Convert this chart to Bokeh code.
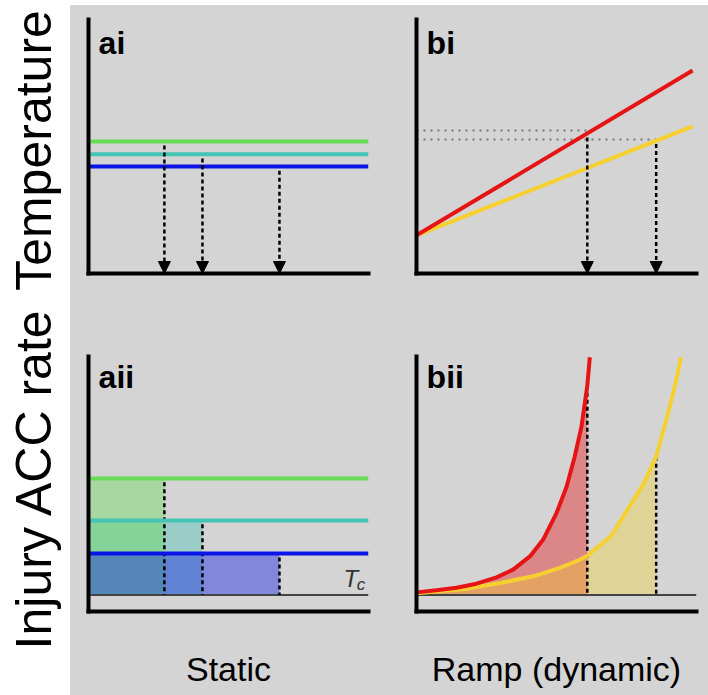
import math
from bokeh.plotting import figure
from bokeh.layouts import row, column
from bokeh.models import Arrow, NormalHead, Spacer, Range1d, ColumnDataSource, FixedTicker
from bokeh.core.properties import value
from bokeh.embed import file_html
from bokeh.resources import INLINE

# ---------------- data ----------------
row_labels = ["Temperature", "Injury ACC rate"]
col_labels = ["Static", "Ramp (dynamic)"]
panel_labels = ["ai", "bi", "aii", "bii"]

# static exposures (three constant temperatures) and their times to failure
static_temp = [0.520, 0.469, 0.421]
static_time = [0.271, 0.407, 0.682]
static_rate = [0.522, 0.357, 0.227]
tc_level = 0.065

# ramp exposures (fast = red, slow = yellow)
ramp_t = [0.0, 0.986]
fast_temp = [0.150, 0.799]
slow_temp = [0.150, 0.579]
fast_fail_t = 0.610
slow_fail_t = 0.856
fast_fail_temp = 0.563
slow_fail_temp = 0.528

fast_t = [0.0, 0.071, 0.143, 0.214, 0.286, 0.345, 0.405, 0.452, 0.500, 0.536, 0.565, 0.589, 0.610, 0.619]
fast_rate = [0.075, 0.083, 0.093, 0.109, 0.134, 0.164, 0.216, 0.281, 0.386, 0.489, 0.607, 0.724, 0.885, 0.997]
slow_t = [0.0, 0.179, 0.298, 0.417, 0.512, 0.583, 0.610, 0.693, 0.753, 0.812, 0.856, 0.895, 0.925, 0.945]
slow_rate = [0.072, 0.089, 0.112, 0.138, 0.171, 0.203, 0.219, 0.294, 0.398, 0.503, 0.607, 0.763, 0.893, 0.997]

# ---------------- style ----------------
BG = "#d4d4d4"
FONT = "Liberation Sans"
static_colors = ["#66dd55", "#44c4b4", "#0a14e6"]
fill_order = [1, 0, 2]
RED = "#e61414"
YEL = "#f5d030"
TC_COLOR = "#444444"


def panel(width, height, bl, br, bt, bb, xlabel=None):
    p = figure(width=width, height=height, output_backend="svg", toolbar_location=None,
               title=None, x_range=Range1d(0, 1), y_range=Range1d(0, 1),
               min_border_left=bl, min_border_right=br, min_border_top=bt, min_border_bottom=bb,
               background_fill_color=BG, border_fill_color=BG, outline_line_color=None,
               styles={"background-color": BG})
    p.grid.visible = False
    for ax in (p.xaxis[0], p.yaxis[0]):
        ax.ticker = FixedTicker(ticks=[])
        ax.axis_line_width = 4
        ax.axis_line_color = "black"
        ax.axis_line_cap = "square"
        ax.major_tick_out = 0
        ax.major_tick_in = 0
        ax.minor_tick_out = 0
        ax.minor_tick_in = 0
        ax.major_label_text_font_size = "0px"
        ax.major_label_standoff = 0
    if xlabel:
        ax = p.xaxis[0]
        ax.axis_label = xlabel
        ax.axis_label_text_font = FONT
        ax.axis_label_text_font_size = "34px"
        ax.axis_label_text_font_style = "normal"
        ax.axis_label_text_color = "black"
        ax.axis_label_standoff = 38
    return p


def panel_label(p, txt, y):
    p.text(x=[0.036], y=[y], text=[txt], text_font=value(FONT), text_font_style="bold",
           text_font_size="32px", text_align="left", text_baseline="middle", text_color="black")


def down_arrows(p, xs, ys):
    src = ColumnDataSource(dict(x0=xs, y0=ys, x1=xs, y1=[0.0] * len(xs)))
    p.add_layout(Arrow(source=src, x_start="x0", y_start="y0", x_end="x1", y_end="y1",
                       line_color="black", line_width=2.5, line_dash="4 3",
                       end=NormalHead(size=12, fill_color="black", line_color="black", line_width=1)))


# ---- ai ----
ai = panel(322, 309, 18, 24, 14, 41)
for lvl, col in zip(static_temp, static_colors):
    ai.line(x=[0, 1], y=[lvl, lvl], line_color=col, line_width=4)
down_arrows(ai, static_time, [v - 0.016 for v in static_temp])
panel_label(ai, panel_labels[0], 0.909)

# ---- bi ----
bi = panel(316, 309, 24, 12, 14, 41)
bi.line(x=[0, fast_fail_t], y=[fast_fail_temp, fast_fail_temp], line_color="#777777",
        line_width=2, line_dash="2 5")
bi.line(x=[0, slow_fail_t], y=[slow_fail_temp, slow_fail_temp], line_color="#777777",
        line_width=2, line_dash="2 5")
bi.line(x=ramp_t, y=slow_temp, line_color=YEL, line_width=4)
bi.line(x=ramp_t, y=fast_temp, line_color=RED, line_width=4)
down_arrows(bi, [fast_fail_t, slow_fail_t], [fast_fail_temp - 0.028, slow_fail_temp - 0.018])
panel_label(bi, panel_labels[1], 0.909)

# ---- aii ----
aii = panel(322, 381, 18, 24, 42, 84, xlabel=col_labels[0])
for i in fill_order:
    aii.quad(left=[0], right=[static_time[i]], bottom=[tc_level], top=[static_rate[i]],
             fill_color=static_colors[i], fill_alpha=0.4, line_color=None)
aii.line(x=[0, 1], y=[tc_level, tc_level], line_color=TC_COLOR, line_width=2)
aii.segment(x0=static_time, y0=[v - 0.015 for v in static_rate], x1=static_time,
            y1=[tc_level] * 3, line_color="black", line_width=2.5, line_dash="4 3")
for lvl, col in zip(static_rate, static_colors):
    aii.line(x=[0, 1], y=[lvl, lvl], line_color=col, line_width=4)
aii.text(x=[0.911], y=[0.129], text=["T"], text_font=value(FONT), text_font_style="italic",
         text_font_size="24px", text_color="#333333", text_baseline="middle")
aii.text(x=[0.958], y=[0.106], text=["c"], text_font=value(FONT), text_font_style="italic",
         text_font_size="17px", text_color="#333333", text_baseline="middle")
panel_label(aii, panel_labels[2], 0.918)

# ---- bii ----
bii = panel(316, 381, 24, 12, 42, 84, xlabel=col_labels[1])
fx = [t for t in fast_t if t <= fast_fail_t]
fy = fast_rate[:len(fx)]
sx = [t for t in slow_t if t <= slow_fail_t]
sy = slow_rate[:len(sx)]
bii.varea(x=fx, y1=[tc_level] * len(fx), y2=fy, fill_color=RED, fill_alpha=0.4)
bii.varea(x=sx, y1=[tc_level] * len(sx), y2=sy, fill_color="#f5d228", fill_alpha=0.35)
bii.line(x=[0, 1], y=[tc_level, tc_level], line_color=TC_COLOR, line_width=2)
bii.segment(x0=[fast_fail_t, slow_fail_t], y0=[fy[-1], sy[-1]], x1=[fast_fail_t, slow_fail_t],
            y1=[tc_level, tc_level], line_color="black", line_width=2.5, line_dash="4 3")
bii.line(x=slow_t, y=slow_rate, line_color=YEL, line_width=4, line_join="round")
bii.line(x=fast_t, y=fast_rate, line_color=RED, line_width=4, line_join="round")
panel_label(bii, panel_labels[3], 0.918)

# ---- left strip with row labels ----
strip = figure(width=70, height=695, output_backend="svg", toolbar_location=None, title=None,
               x_range=Range1d(0, 70), y_range=Range1d(0, 695), min_border=0,
               x_axis_location=None, y_axis_location=None,
               background_fill_color="white", border_fill_color="white", outline_line_color=None)
strip.grid.visible = False
strip.text(x=[33, 33], y=[545, 217], text=row_labels, angle=math.pi / 2,
           text_font=value(FONT), text_font_size="50px", text_align="center",
           text_baseline="middle", text_color="black")

panels = column(row(ai, bi, styles={"background-color": BG}),
                row(aii, bii, styles={"background-color": BG}),
                styles={"background-color": BG})
layout = row(strip, column(Spacer(width=638, height=5), panels))

open("out.html", "w").write(file_html(layout, INLINE))
